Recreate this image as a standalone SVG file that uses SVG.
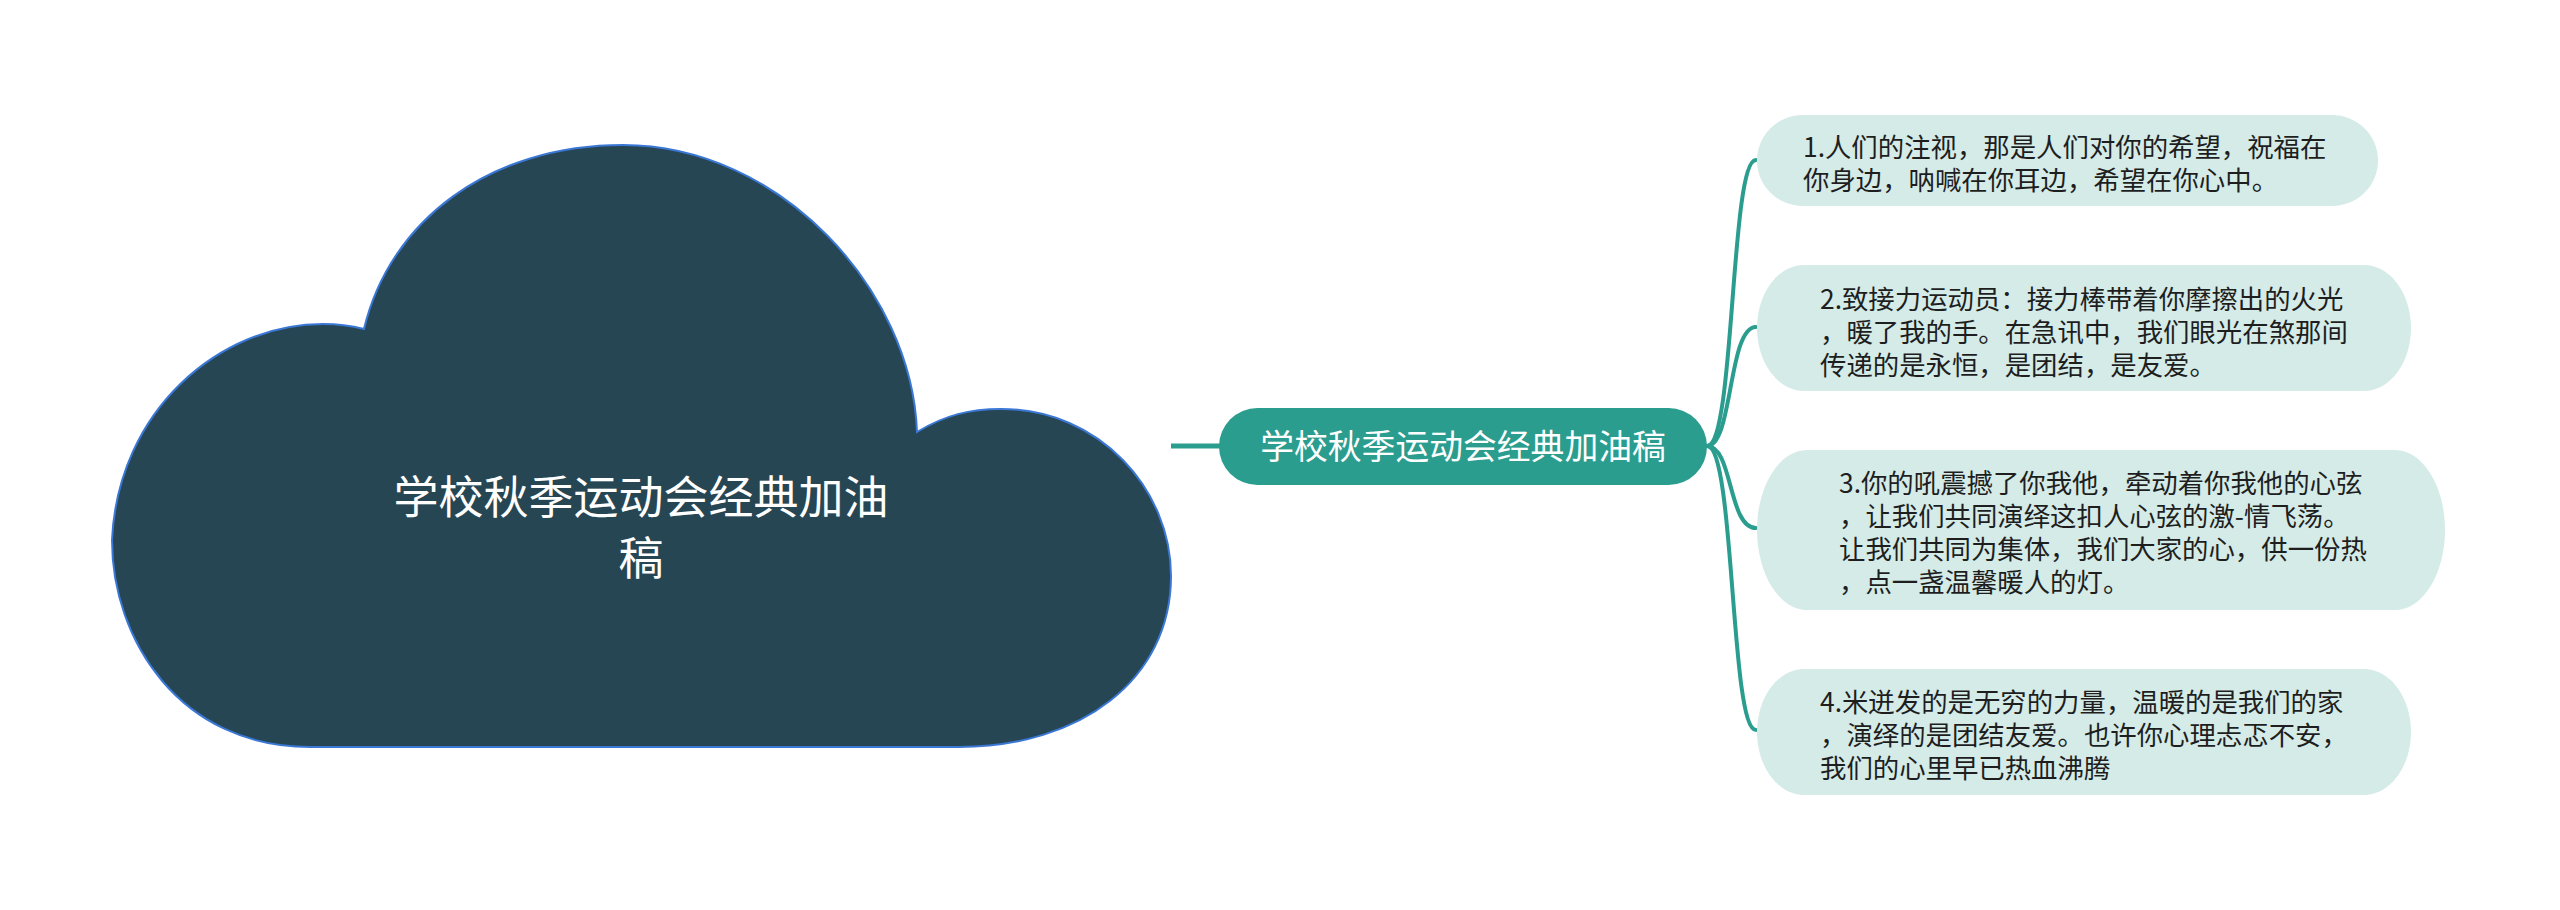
<svg xmlns="http://www.w3.org/2000/svg" width="2560" height="910" viewBox="0 0 2560 910">
<style>
.leaf{fill:#d4ebe8;}
.lt{font-family:"Noto Sans CJK SC","Noto Sans",sans-serif;font-size:26.4px;fill:#1e1e1e;}
.conn{fill:none;stroke:#2a9d8f;stroke-width:4;stroke-linecap:round;}
</style>
<rect width="2560" height="910" fill="#ffffff"/>
<g id="connectors">
<line x1="1171" y1="446" x2="1221" y2="446" stroke="#2a9d8f" stroke-width="5"/>
<path class="conn" d="M1707 446 C1735 446 1730 160 1756 160"/>
<path class="conn" d="M1707 446 C1733 446 1728 327 1756 327"/>
<path class="conn" d="M1707 446 C1733 446 1728 528 1756 528"/>
<path class="conn" d="M1707 446 C1735 446 1730 730 1756 730"/>
</g>
<g id="root">
<path d="M364 329 C390 220 490 145 623 145 C780 145 912 290 917 432 C945 415 970 409 1001 409 C1100 409 1171 490 1171 576 C1171 680 1080 747 959 747 L310 747 C180 747 112 640 112 540 C118 410 220 324 323 324 C340 324 352 326 364 329 Z" fill="#264653" stroke="#3b78d6" stroke-width="2"/>
<text font-family="'Noto Sans CJK SC','Noto Sans',sans-serif" font-size="45" fill="#ffffff" text-anchor="middle"><tspan x="641" y="514">学校秋季运动会经典加油</tspan><tspan x="641" y="575">稿</tspan></text>
</g>
<g id="center">
<rect x="1219" y="408" width="488" height="77" rx="38.5" fill="#2a9d8f"/>
<text x="1463" y="459" font-family="'Noto Sans CJK SC','Noto Sans',sans-serif" font-size="33.8" fill="#ffffff" text-anchor="middle">学校秋季运动会经典加油稿</text>
</g>
<g id="leaf1">
<rect class="leaf" x="1757" y="115" width="621" height="91" rx="46" ry="45.5"/>
<text class="lt"><tspan x="1803" y="157">1.人们的注视，那是人们对你的希望，祝福在</tspan><tspan x="1803" y="190">你身边，呐喊在你耳边，希望在你心中。</tspan></text>
</g>
<g id="leaf2">
<rect class="leaf" x="1757" y="265" width="654" height="126" rx="47" ry="63"/>
<text class="lt"><tspan x="1820" y="309">2.致接力运动员：接力棒带着你摩擦出的火光</tspan><tspan x="1820" y="342">，暖了我的手。在急讯中，我们眼光在煞那间</tspan><tspan x="1820" y="375">传递的是永恒，是团结，是友爱。</tspan></text>
</g>
<g id="leaf3">
<rect class="leaf" x="1757" y="450" width="688" height="160" rx="50" ry="80"/>
<text class="lt"><tspan x="1839" y="493">3.你的吼震撼了你我他，牵动着你我他的心弦</tspan><tspan x="1839" y="526">，让我们共同演绎这扣人心弦的激-情飞荡。</tspan><tspan x="1839" y="559">让我们共同为集体，我们大家的心，供一份热</tspan><tspan x="1839" y="592">，点一盏温馨暖人的灯。</tspan></text>
</g>
<g id="leaf4">
<rect class="leaf" x="1757" y="669" width="654" height="126" rx="47" ry="63"/>
<text class="lt"><tspan x="1820" y="712">4.米迸发的是无穷的力量，温暖的是我们的家</tspan><tspan x="1820" y="745">，演绎的是团结友爱。也许你心理忐忑不安，</tspan><tspan x="1820" y="778">我们的心里早已热血沸腾</tspan></text>
</g>
</svg>
